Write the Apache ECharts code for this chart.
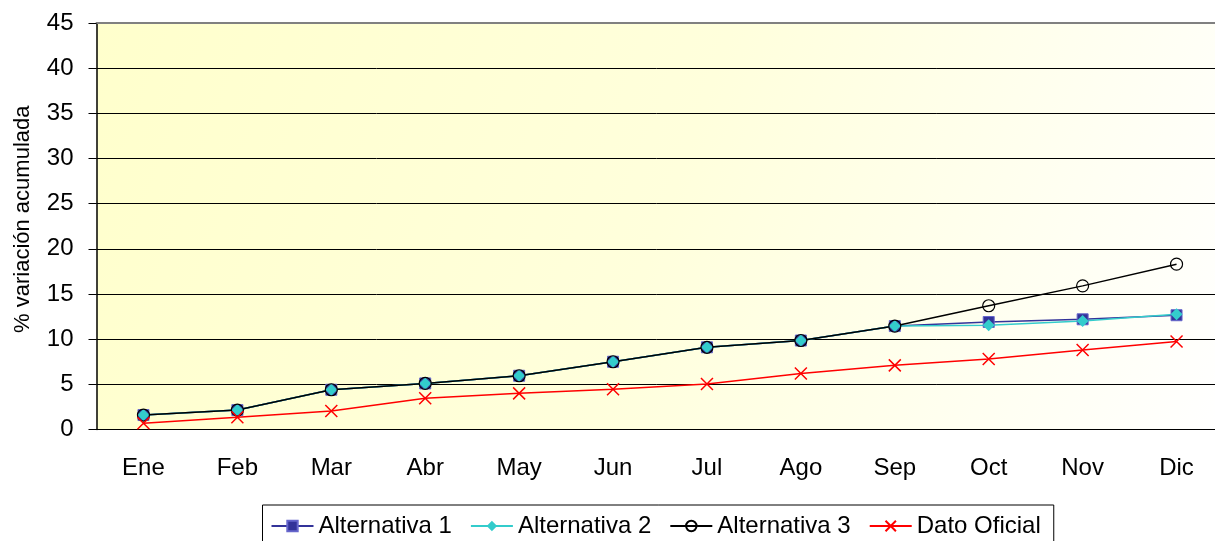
<!DOCTYPE html>
<html>
<head>
<meta charset="utf-8">
<script src="https://cdn.jsdelivr.net/npm/echarts@6/dist/echarts.min.js"></script>
<style>
  html, body { margin: 0; padding: 0; background: #fff; }
  #chart { width: 1215px; height: 541px; }
</style>
</head>
<body>
<div id="chart"></div>
<script>
const months = ['Ene', 'Feb', 'Mar', 'Abr', 'May', 'Jun', 'Jul', 'Ago', 'Sep', 'Oct', 'Nov', 'Dic']
const alt1 = [1.6, 2.15, 4.4, 5.1, 5.95, 7.5, 9.1, 9.85, 11.45, 11.9, 12.2, 12.65]
const alt2 = [1.6, 2.15, 4.4, 5.1, 5.95, 7.5, 9.1, 9.85, 11.45, 11.55, 12.0, 12.75]
const alt3 = [1.6, 2.15, 4.4, 5.1, 5.95, 7.5, 9.1, 9.85, 11.45, 13.7, 15.9, 18.3]
const oficial = [0.7, 1.35, 2.05, 3.45, 4.0, 4.45, 5.03, 6.2, 7.1, 7.8, 8.8, 9.75]

const font = 'Liberation Sans, Arial, sans-serif'

let option = {
  animation: false,
  textStyle: { fontFamily: font },
  grid: {
    left: 96.5,
    right: -8.5,
    top: 23,
    bottom: 111.5,
    outerBoundsMode: 'none',
    containLabel: false,
    show: true,
    borderWidth: 0,
    backgroundColor: {
      type: 'linear', x: 0, y: 0, x2: 1, y2: 1,
      colorStops: [
        { offset: 0, color: '#ffffcc' },
        { offset: 0.5, color: '#ffffdc' },
        { offset: 1, color: '#ffffff' }
      ]
    }
  },
  legend: {
    left: 262.5,
    top: 505,
    padding: [9, 13, 10, 8],
    borderColor: '#000',
    borderWidth: 1,
    itemWidth: 42,
    itemHeight: 13,
    itemGap: 18,
    textStyle: { fontSize: 24, color: '#000', fontFamily: font },
    data: ['Alternativa 1', 'Alternativa 2', 'Alternativa 3', 'Dato Oficial']
  },
  xAxis: [
    {
      type: 'category',
      data: months,
      boundaryGap: true,
      axisLine: { lineStyle: { color: '#000', width: 1 } },
      axisTick: { length: 6, lineStyle: { color: '#000' } },
      axisLabel: { fontSize: 24, color: '#000', margin: 27, fontFamily: font }
    },
    {
      type: 'category',
      data: months,
      position: 'top',
      axisLine: { lineStyle: { color: '#808080', width: 2 } },
      axisTick: { show: false },
      axisLabel: { show: false }
    }
  ],
  yAxis: {
    type: 'value',
    min: 0,
    max: 45,
    interval: 5,
    name: '% variación acumulada',
    nameLocation: 'middle',
    nameRotate: 90,
    nameGap: 63,
    nameTextStyle: { fontSize: 22, color: '#000', fontFamily: font, padding: [0, 0, 0, 14] },
    axisLine: { show: true, lineStyle: { color: '#000', width: 1.5 } },
    axisTick: { show: true, length: 8, lineStyle: { color: '#000' } },
    axisLabel: { fontSize: 24, color: '#000', margin: 23, fontFamily: font },
    splitLine: { show: true, lineStyle: { color: '#000', width: 1 } }
  },
  series: [
    {
      name: 'Alternativa 1',
      type: 'line',
      data: alt1,
      symbol: 'rect',
      symbolSize: 11,
      itemStyle: { color: '#333399', borderColor: '#6666cc', borderWidth: 1 },
      lineStyle: { color: '#333399', width: 1.5 }
    },
    {
      name: 'Alternativa 2',
      type: 'line',
      data: alt2,
      symbol: 'diamond',
      symbolSize: 12,
      itemStyle: { color: '#33cccc' },
      lineStyle: { color: '#33cccc', width: 1.5 }
    },
    {
      name: 'Alternativa 3',
      type: 'line',
      data: alt3,
      symbol: 'circle',
      symbolSize: 12,
      itemStyle: { color: 'rgba(0,0,0,0)', borderColor: '#000', borderWidth: 1.2 },
      lineStyle: { color: '#000', width: 1.5 }
    },
    {
      name: 'Dato Oficial',
      type: 'line',
      data: oficial,
      symbol: 'path://M0,0L10,10M10,0L0,10',
      symbolSize: 12,
      itemStyle: { color: '#ff0000', borderColor: '#ff0000', borderWidth: 1.5 },
      lineStyle: { color: '#ff0000', width: 1.5 }
    }
  ]
}

let myChart = echarts.init(document.getElementById('chart'))
myChart.setOption(option)
</script>
</body>
</html>
